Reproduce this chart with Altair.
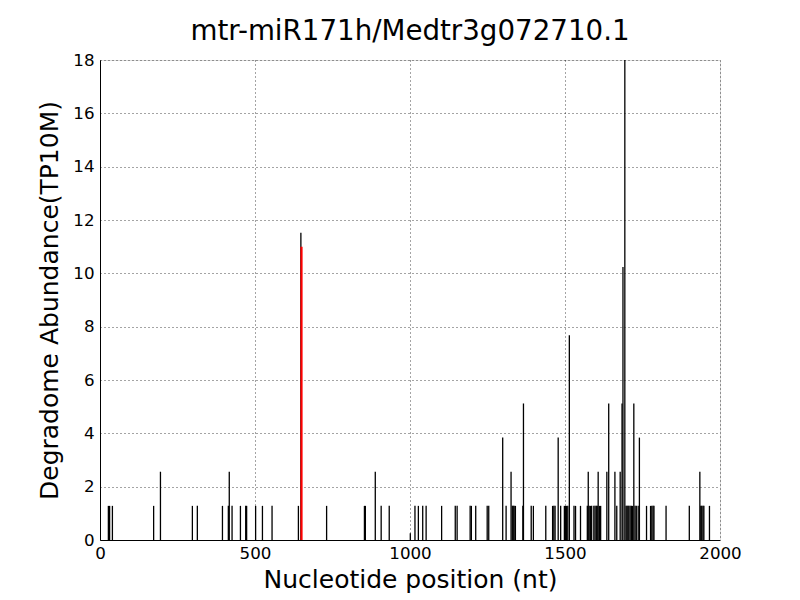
import altair as alt
import pandas as pd

TITLE = "mtr-miR171h/Medtr3g072710.1"
X_TITLE = "Nucleotide position (nt)"
Y_TITLE = "Degradome Abundance(TP10M)"

# Degradome read positions (nt) and abundance (TP10M)
positions = [27, 31, 40, 173, 195, 298, 314, 395, 414, 417, 426, 453, 470, 473,
             502, 524, 555, 640, 648,
             731, 853, 856, 888, 907, 933, 1001, 1016, 1027, 1041, 1052, 1102,
             1146, 1152, 1194, 1198, 1212, 1249, 1254, 1299, 1310, 1326, 1330,
             1333, 1336, 1340, 1364, 1366, 1391, 1398, 1438, 1460, 1464, 1468,
             1478, 1486, 1498, 1502, 1505, 1509, 1514, 1529, 1534, 1550, 1572,
             1575, 1578, 1582, 1586, 1593, 1597, 1601, 1604, 1607, 1611, 1615,
             1635, 1641, 1661, 1667, 1678, 1684, 1687, 1693, 1697, 1700, 1703,
             1706, 1710, 1714, 1718, 1722, 1726, 1730, 1736, 1740, 1763, 1776,
             1780, 1784, 1787, 1826, 1901, 1935, 1938, 1941, 1945, 1948, 1966]
abundance = [1.28, 1.28, 1.28, 1.28, 2.56, 1.28, 1.28, 1.28, 1.28, 2.56, 1.28, 1.28, 1.28, 1.28,
             1.28, 1.28, 1.28, 1.28, 11.52,
             1.28, 1.28, 1.28, 2.56, 1.28, 1.28, 0.25, 1.28, 1.28, 1.28, 1.28, 1.28,
             1.28, 1.28, 1.28, 1.28, 1.28, 1.28, 1.28, 3.84, 1.28, 2.56, 1.28,
             1.28, 1.28, 1.28, 1.28, 5.12, 1.28, 1.28, 1.28, 1.28, 1.28, 1.28,
             3.84, 1.28, 1.28, 1.28, 1.28, 1.28, 7.68, 1.28, 1.28, 1.28, 1.28,
             2.56, 1.28, 1.28, 1.28, 1.28, 1.28, 1.28, 1.28, 2.56, 1.28, 1.28,
             2.56, 5.12, 2.56, 1.28, 2.56, 5.12, 10.24, 18.0, 1.28, 1.28, 1.28,
             1.28, 1.28, 1.28, 1.28, 5.12, 1.28, 1.28, 1.28, 3.84, 1.28, 1.28,
             1.28, 1.28, 1.28, 1.28, 1.28, 2.56, 1.28, 1.28, 1.28, 1.28, 1.28]

# miRNA cleavage site
cleavage_pos = [650]
cleavage_val = [11.0]

x_ticks = [0, 500, 1000, 1500, 2000]
y_ticks = [0, 2, 4, 6, 8, 10, 12, 14, 16, 18]

df = pd.DataFrame({"pos": positions, "val": abundance})
df_red = pd.DataFrame({"pos": cleavage_pos, "val": cleavage_val})

FONT = "DejaVu Sans"

x_scale = alt.Scale(domain=[0, 2000], nice=False, zero=False)
y_scale = alt.Scale(domain=[0, 18], nice=False)

common = dict(grid=True, ticks=False, format="d",
              labelFontSize=16.7, titleFontSize=25,
              labelFont=FONT, titleFont=FONT,
              titleFontWeight="normal", labelColor="black", titleColor="black",
              domainColor="black", gridColor="black", gridOpacity=0.9,
              gridDash=[1, 3], gridWidth=0.8, labelFlush=False)

x_axis = alt.Axis(values=x_ticks, title=X_TITLE, labelPadding=5, titlePadding=6, **common)
y_axis = alt.Axis(values=y_ticks, title=Y_TITLE, labelPadding=6, titlePadding=10, **common)

bars = alt.Chart(df).mark_rule(color="black", strokeWidth=1.3, clip=True).encode(
    x=alt.X("pos:Q", scale=x_scale, axis=x_axis),
    y=alt.Y("val:Q", scale=y_scale, axis=y_axis),
    y2=alt.datum(0),
)

red = alt.Chart(df_red).mark_rule(color="red", strokeWidth=2.2).encode(
    x=alt.X("pos:Q", scale=x_scale),
    y=alt.Y("val:Q", scale=y_scale),
    y2=alt.datum(0),
)

chart = alt.layer(bars, red).properties(
    width=620, height=480,
    title=alt.TitleParams(TITLE, fontSize=27.7, font=FONT, fontWeight="normal",
                          color="black", offset=6),
    autosize=alt.AutoSizeParams(type="none"),
    padding={"left": 92, "top": 52, "right": 40, "bottom": 54},
).configure_view(stroke="black", strokeWidth=1).configure(background="white")

chart.save("out.html", embed_options={"renderer": "svg", "actions": False})
